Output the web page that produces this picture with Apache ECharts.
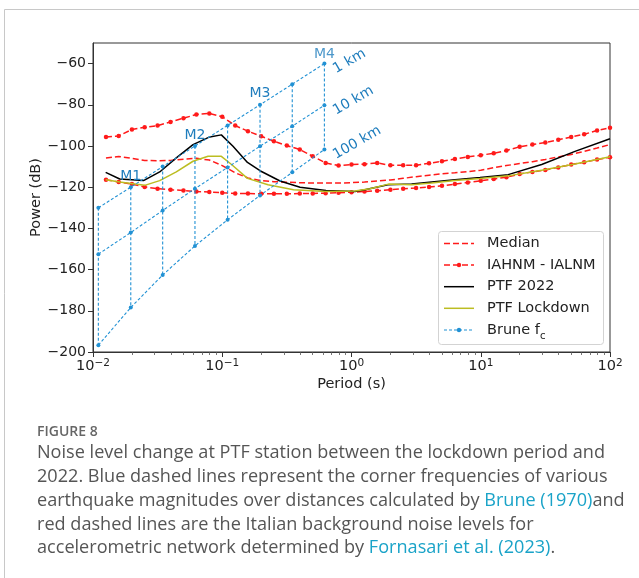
<!DOCTYPE html>
<html>
<head>
<meta charset="utf-8">
<script src="https://cdn.jsdelivr.net/npm/echarts@6/dist/echarts.min.js"></script>
<style>
html,body{margin:0;padding:0;background:#fff;}
#chart{width:639px;height:578px;}
</style>
</head>
<body>
<div id="chart"></div>
<script>
// ---------------- data ----------------
const noisePeriods = [0.0126, 0.0158, 0.02, 0.0251, 0.0316, 0.0398, 0.0501, 0.0631, 0.0794, 0.1,
  0.126, 0.158, 0.2, 0.251, 0.316, 0.398, 0.501, 0.631, 0.794, 1,
  1.26, 1.58, 2, 2.51, 3.16, 3.98, 5.01, 6.31, 7.94, 10,
  12.6, 15.8, 20, 25.1, 31.6, 39.8, 50.1, 63.1, 79.4, 100];
const medianDb = [-105.8, -105.1, -106.0, -107.0, -107.2, -107.0, -106.4, -106.0, -106.8, -109.5,
  -113.0, -115.5, -116.8, -117.3, -117.6, -117.8, -118.0, -118.0, -118.0, -117.8,
  -117.5, -117.0, -116.5, -115.7, -114.9, -114.2, -113.5, -113.0, -112.4, -111.8,
  -110.5, -109.5, -108.5, -107.6, -106.5, -105.3, -104.1, -102.6, -101.0, -99.3];
const iahnmDb = [-95.6, -95.1, -92.0, -90.9, -90.1, -88.3, -86.5, -84.7, -84.2, -85.8,
  -90.1, -92.8, -95.3, -97.7, -99.8, -101.7, -105.0, -108.2, -109.5, -109.0,
  -108.8, -108.2, -109.4, -109.4, -109.4, -108.4, -107.4, -106.3, -105.3, -104.5,
  -103.5, -102.2, -100.4, -99.3, -98.3, -97.0, -95.6, -94.3, -92.5, -91.2];
const ialnmDb = [-116.4, -117.5, -118.5, -119.9, -120.7, -121.2, -121.6, -122.1, -122.3, -122.7,
  -123.0, -123.1, -123.2, -123.2, -123.2, -123.1, -123.0, -122.9, -122.7, -122.4,
  -122.1, -121.7, -121.2, -120.7, -120.4, -119.9, -119.3, -118.5, -117.7, -116.9,
  -116.0, -115.2, -113.6, -112.6, -111.6, -110.4, -109.0, -107.9, -106.6, -105.5];

const ptf2022Periods = [0.01253, 0.0161, 0.0246, 0.0328, 0.0441, 0.0594, 0.08, 0.0984, 0.1211, 0.1567,
  0.1959, 0.28, 0.4, 0.635, 1.064, 1.27, 1.91, 2.92, 4.17, 6.32, 9.87, 16.3, 29.6, 53.6, 100];
const ptf2022Db = [-112.8, -116.0, -116.8, -112.6, -105.8, -99.3, -95.6, -94.6, -100.1, -108.0,
  -112.0, -117.0, -120.0, -121.6, -122.1, -121.2, -118.8, -118.5, -117.5, -116.4, -115.3, -113.9, -109.0, -102.6, -96.5];

const ptfLockPeriods = [0.01253, 0.0161, 0.0251, 0.0328, 0.0441, 0.0594, 0.0776, 0.0984, 0.118, 0.1567,
  0.226, 0.356, 0.635, 1.064, 1.39, 1.93, 2.92, 4.17, 6.32, 9.87, 16.3, 29.6, 53.6, 100];
const ptfLockDb = [-116.4, -117.5, -119.1, -116.8, -112.6, -107.4, -105.0, -105.0, -109.0, -115.7,
  -118.8, -121.2, -122.1, -121.8, -120.8, -118.5, -118.8, -118.0, -116.8, -115.8, -114.5, -111.8, -108.7, -105.2];

const brunePeriods = [0.011, 0.0196, 0.0346, 0.0615, 0.11, 0.196, 0.348, 0.617];
const brune1km = [-130, -120, -110, -100, -90, -80, -70, -60];
const brune10km = [-152.5, -142, -131.3, -120.7, -110.4, -100.1, -90.4, -80.2];
const brune100km = [-196.7, -178.4, -162.6, -148.5, -135.8, -124, -112.8, -101.7];
const magLabels = ['', 'M1', '', 'M2', '', 'M3', '', 'M4'];
const distLabels = ['1 km', '10 km', '100 km'];

const yTicks = [-200, -180, -160, -140, -120, -100, -80, -60];
const xMajorTicks = [0.01, 0.1, 1, 10, 100];
const xTickExponents = ['\u22122', '\u22121', '0', '1', '2'];
const xMinorTicks = [0.02,0.03,0.04,0.05,0.06,0.07,0.08,0.09,0.2,0.3,0.4,0.5,0.6,0.7,0.8,0.9,
  2,3,4,5,6,7,8,9,20,30,40,50,60,70,80,90];

const legendNames = ['Median', 'IAHNM - IALNM', 'PTF 2022', 'PTF Lockdown', 'Brune f{sub|c}'];

// ---------------- styles ----------------
const RED = '#ff1a1a';
const BLUE = '#2191d4';
const BLUE_TXT = '#1f7dbd';
const FONT = 'DejaVu Sans';

const zip = (xs, ys) => xs.map((x, i) => [x, ys[i]]);
const bruneStyle = () => ({ color: BLUE, width: 1.1, type: [3, 2] });
const magLabel = (t) => ({ show: true, formatter: t, position: 'top', distance: 2,
  color: BLUE_TXT, fontSize: 14, fontFamily: FONT });

const series = [];
series.push({ name: 'Median', type: 'line', data: zip(noisePeriods, medianDb), symbol: 'none',
  lineStyle: { color: RED, width: 1.5, type: [6, 3] }, z: 2 });
series.push({ name: 'IAHNM - IALNM', type: 'line', data: zip(noisePeriods, iahnmDb), symbol: 'circle', symbolSize: 4.5,
  itemStyle: { color: RED }, lineStyle: { color: RED, width: 1.5, type: [6, 3] }, z: 2 });
series.push({ name: 'IAHNM - IALNM', type: 'line', data: zip(noisePeriods, ialnmDb), symbol: 'circle', symbolSize: 4.5,
  itemStyle: { color: RED }, lineStyle: { color: RED, width: 1.5, type: [6, 3] }, z: 2 });
series.push({ name: 'PTF 2022', type: 'line', data: zip(ptf2022Periods, ptf2022Db), symbol: 'none',
  lineStyle: { color: '#000', width: 1.5 }, z: 3 });
series.push({ name: 'PTF Lockdown', type: 'line', data: zip(ptfLockPeriods, ptfLockDb), symbol: 'none',
  lineStyle: { color: '#bcbd22', width: 1.5 }, z: 3 });

[brune1km, brune10km, brune100km].forEach((arr, k) => {
  const data = arr.map((v, i) => {
    const item = { value: [brunePeriods[i], v] };
    if (i === arr.length - 1) {
      item.label = { show: true, formatter: distLabels[k], position: 'right', distance: 3, rotate: 30,
        offset: [1, 8], color: BLUE_TXT, fontSize: 14, fontFamily: FONT, align: 'left', verticalAlign: 'middle' };
    } else if (k === 0 && magLabels[i]) {
      item.label = magLabel(magLabels[i]);
    }
    return item;
  });
  series.push({ name: 'Brune', type: 'line', data, symbol: 'circle', symbolSize: 4, showSymbol: true,
    itemStyle: { color: BLUE }, lineStyle: bruneStyle(), z: 4 });
});
// M4 label shares its point with the "1 km" label
series.push({ name: 'BruneM4', type: 'scatter', symbol: 'circle', symbolSize: 1,
  itemStyle: { color: 'rgba(0,0,0,0)' },
  data: [{ value: [brunePeriods[7], brune1km[7]], label: magLabel(magLabels[7]) }], z: 5 });
brunePeriods.forEach((p, i) => {
  series.push({ name: 'Brune', type: 'line', data: [[p, brune1km[i]], [p, brune100km[i]]], symbol: 'none',
    lineStyle: bruneStyle(), z: 4 });
});

// ---------------- legend (drawn) ----------------
const LX = 438.5, LY = 231.5, LW = 165, LH = 113;
const legendY = [243.5, 265, 286.7, 308.3, 330];
const legendStyles = [
  { stroke: RED, dash: [6, 3], width: 1.5, dot: null },
  { stroke: RED, dash: [6, 3], width: 1.5, dot: RED },
  { stroke: '#000', dash: null, width: 1.5, dot: null },
  { stroke: '#bcbd22', dash: null, width: 1.5, dot: null },
  { stroke: BLUE, dash: [3, 2], width: 1.1, dot: BLUE }
];
const graphics = [];
graphics.push({ type: 'rect', shape: { x: LX, y: LY, width: LW, height: LH, r: 3 },
  style: { fill: 'rgba(255,255,255,0.85)', stroke: '#d3d3d3', lineWidth: 1 }, z: 100 });
legendNames.forEach((n, i) => {
  const s = legendStyles[i];
  graphics.push({ type: 'line', shape: { x1: 444, y1: legendY[i], x2: 474, y2: legendY[i] },
    style: { stroke: s.stroke, lineWidth: s.width, lineDash: s.dash }, z: 101 });
  if (s.dot) graphics.push({ type: 'circle', shape: { cx: 459, cy: legendY[i], r: 2.2 }, style: { fill: s.dot }, z: 102 });
  graphics.push({ type: 'text', x: 487, y: legendY[i], z: 102,
    style: { text: n, fill: '#222', font: '14.5px "DejaVu Sans"', verticalAlign: 'middle', align: 'left',
      rich: { sub: { fontSize: 10, fontFamily: FONT, fill: '#222', padding: [12, 0, 0, 0], lineHeight: 10 } } } });
});

// ---------------- page frame + caption ----------------
graphics.push({ type: 'line', shape: { x1: 4.5, y1: 9.5, x2: 639, y2: 9.5 }, style: { stroke: '#c8c8c8', lineWidth: 1 } });
graphics.push({ type: 'line', shape: { x1: 4.5, y1: 9.5, x2: 4.5, y2: 578 }, style: { stroke: '#c8c8c8', lineWidth: 1 } });

const captionTitle = 'FIGURE 8';
const captionLines = [
  'Noise level change at PTF station between the lockdown period and',
  '2022. Blue dashed lines represent the corner frequencies of various',
  'earthquake magnitudes over distances calculated by {link|Brune (1970)}and',
  'red dashed lines are the Italian background noise levels for',
  'accelerometric network determined by {link|Fornasari et al. (2023)}.'
];
graphics.push({ type: 'text', x: 37, y: 432, style: { text: captionTitle, fill: '#666',
  font: '600 14px "Open Sans"', verticalAlign: 'middle' } });
captionLines.forEach((t, i) => {
  graphics.push({ type: 'text', x: 37, y: 453 + i * 23.8, style: { text: t, fill: '#555',
    font: '18.1px "Open Sans"', verticalAlign: 'middle',
    rich: { link: { fill: '#1aa3c8', fontSize: 18.1, fontFamily: 'Open Sans' } } } });
});

// ---------------- chart ----------------
const chart = echarts.init(document.getElementById('chart'), null, { renderer: 'canvas' });
chart.setOption({
  animation: false,
  backgroundColor: '#fff',
  grid: { left: 93, top: 43, width: 517, height: 309, show: true, borderColor: '#333', borderWidth: 1,
    backgroundColor: 'transparent', containLabel: false },
  xAxis: [{
    type: 'log', logBase: 10, min: 0.01, max: 100, position: 'bottom',
    name: 'Period (s)', nameLocation: 'middle', nameGap: 25, nameMoveOverlap: false,
    nameTextStyle: { fontFamily: FONT, fontSize: 14.5, color: '#222' },
    axisLine: { show: true, lineStyle: { color: '#333', width: 1 } },
    axisTick: { show: true, inside: false, length: 5, lineStyle: { color: '#333' }, customValues: xMajorTicks },
    axisLabel: { show: true, margin: 6, fontFamily: FONT, fontSize: 14.5, color: '#222', customValues: xMajorTicks,
      lineHeight: 16,
      formatter: v => '10{sup|' + xTickExponents[Math.round(Math.log10(v)) + 2] + '}',
      rich: { sup: { fontSize: 10.5, fontFamily: FONT, color: '#222', lineHeight: 11, padding: [0, 0, 14, 0], verticalAlign: 'top' } } },
    splitLine: { show: false }, minorTick: { show: false }
  }, {
    type: 'log', logBase: 10, min: 0.01, max: 100, position: 'bottom', gridIndex: 0,
    axisLine: { show: false },
    axisTick: { show: true, inside: false, length: 3, lineStyle: { color: '#555', width: 0.8 }, customValues: xMinorTicks },
    axisLabel: { show: false }, splitLine: { show: false }
  }],
  yAxis: {
    type: 'value', min: -200, max: -50, interval: 20,
    name: 'Power (dB)', nameLocation: 'middle', nameGap: 49, nameRotate: 90, nameMoveOverlap: false,
    nameTextStyle: { fontFamily: FONT, fontSize: 14.5, color: '#222' },
    axisLine: { show: true, lineStyle: { color: '#333', width: 1 } },
    axisTick: { show: true, inside: false, length: 5, lineStyle: { color: '#333' }, customValues: yTicks },
    axisLabel: { show: true, margin: 7, fontFamily: FONT, fontSize: 14, color: '#222', customValues: yTicks,
      formatter: v => String(v).replace('-', '\u2212') },
    splitLine: { show: false }
  },
  series: series.map(s => Object.assign({ silent: true, animation: false, clip: true, xAxisIndex: 0 }, s)),
  graphic: graphics
});
</script>
</body>
</html>
